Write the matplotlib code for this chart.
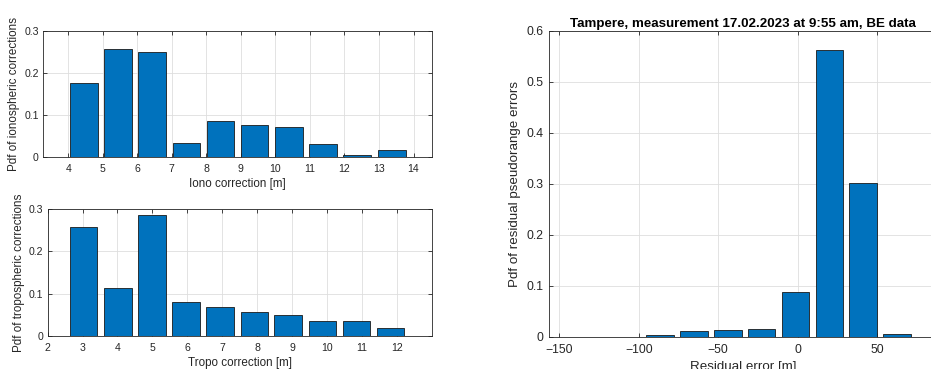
import matplotlib.pyplot as plt
import numpy as np

plt.rcParams['font.family'] = ['Liberation Sans', 'DejaVu Sans']

# ionospheric corrections
iono_x = [4.45, 5.44, 6.43, 7.42, 8.41, 9.40, 10.39, 11.38, 12.37, 13.37]
iono_pdf = [0.177, 0.256, 0.249, 0.033, 0.085, 0.076, 0.072, 0.030, 0.005, 0.017]

# tropospheric corrections
tropo_x = [3.03, 4.01, 4.99, 5.96, 6.94, 7.92, 8.89, 9.87, 10.85, 11.82]
tropo_pdf = [0.257, 0.112, 0.287, 0.081, 0.069, 0.056, 0.050, 0.036, 0.034, 0.019]

# residual pseudorange errors
res_x = [-86.7, -65.3, -44.0, -22.7, -1.4, 19.9, 41.2, 62.6]
res_pdf = [0.003, 0.011, 0.014, 0.016, 0.087, 0.563, 0.301, 0.005]

blue = '#0072BD'
dark = '#262626'


def style(ax, tsize, ypad):
    ax.set_axisbelow(True)
    ax.grid(color='#dedede', linewidth=0.6)
    ax.tick_params(direction='in', top=True, right=True, length=3,
                   colors=dark, labelcolor=dark, width=0.6, labelsize=tsize)
    ax.tick_params(axis='x', pad=5)
    ax.tick_params(axis='y', pad=ypad)
    for s in ax.spines.values():
        s.set_color(dark)
        s.set_linewidth(0.6)


fig = plt.figure(figsize=(9.31, 3.69), dpi=100)

ax1 = fig.add_axes([0.0462, 0.5745, 0.418, 0.3415])
ax1.bar(iono_x, iono_pdf, width=0.8, color=blue, edgecolor='#1a1a1a', linewidth=0.6)
ax1.set_xlim(3.27, 14.54)
ax1.set_ylim(0, 0.3)
ax1.set_xticks(np.arange(4, 15, 1))
ax1.set_yticks([0, 0.1, 0.2, 0.3])
ax1.set_yticklabels(['0', '0.1', '0.2', '0.3'])
ax1.set_xlabel('Iono correction [m]', color=dark, labelpad=3, fontsize=8.4)
ax1.set_ylabel('Pdf of ionospheric corrections', color=dark, labelpad=3, fontsize=8.4)
style(ax1, 7.6, 3)

ax2 = fig.add_axes([0.0512, 0.0902, 0.4125, 0.343])
ax2.bar(tropo_x, tropo_pdf, width=0.79, color=blue, edgecolor='#1a1a1a', linewidth=0.6)
ax2.set_xlim(2, 13)
ax2.set_ylim(0, 0.3)
ax2.set_xticks(np.arange(2, 13, 1))
ax2.set_yticks([0, 0.1, 0.2, 0.3])
ax2.set_yticklabels(['0', '0.1', '0.2', '0.3'])
ax2.set_xlabel('Tropo correction [m]', color=dark, labelpad=3, fontsize=8.4)
ax2.set_ylabel('Pdf of tropospheric corrections', color=dark, labelpad=3, fontsize=8.4)
style(ax2, 7.6, 3)

ax3 = fig.add_axes([0.5897, 0.0876, 0.4168, 0.829])
ax3.bar(res_x, res_pdf, width=17.3, color=blue, edgecolor='#1a1a1a', linewidth=0.6)
ax3.set_xlim(-156.5, 87.7)
ax3.set_ylim(0, 0.6)
ax3.set_xticks([-150, -100, -50, 0, 50])
ax3.set_yticks(np.arange(0, 0.61, 0.1))
ax3.set_yticklabels(['0', '0.1', '0.2', '0.3', '0.4', '0.5', '0.6'])
ax3.set_xlabel('Residual error [m]', color=dark, labelpad=4, fontsize=9.6)
ax3.set_ylabel('Pdf of residual pseudorange errors', color=dark, labelpad=4, fontsize=9.6)
ax3.set_title('Tampere, measurement 17.02.2023 at 9:55 am, BE data',
              fontweight='bold', fontsize=9.6, pad=3)
style(ax3, 8.8, 4)

fig.savefig('out.png', dpi=100)
